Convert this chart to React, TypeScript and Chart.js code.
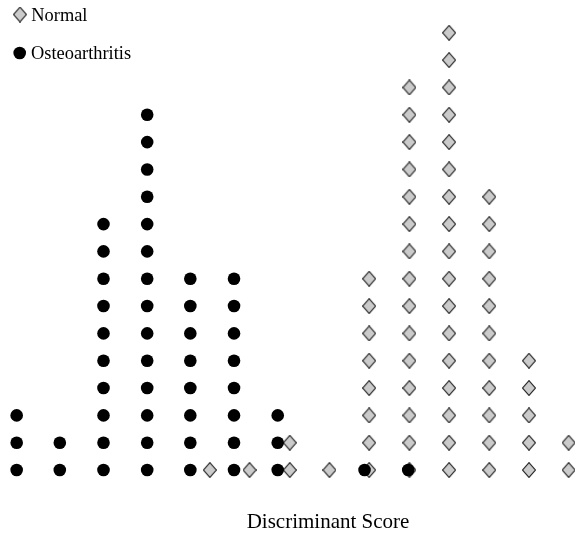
import React, { useEffect, useRef } from "react";
import { Chart, registerables } from "chart.js";

Chart.register(...registerables);

// Discriminant score bin centres and the number of subjects stacked in each bin
const osteoScores = [-4.71, -3.96, -3.2, -2.44, -1.69, -0.93, -0.17, 1.34, 2.1];
const osteoCounts = [3, 2, 10, 14, 8, 8, 3, 1, 1];
const normalScores = [-1.35, -0.66, 0.04, 0.73, 1.42, 2.12, 2.81, 3.51, 4.2, 4.89];
const normalCounts = [1, 1, 2, 1, 8, 15, 17, 11, 5, 2];
const seriesLabels = ["Normal", "Osteoarthritis"];
const axisTitle = "Discriminant Score";

const FONT = "'Liberation Serif', 'Times New Roman', serif";
const DIAMOND_FILL = "#cbcbcb";
const DIAMOND_STROKE = "#222222";

function stack(scores: number[], counts: number[]) {
  const pts: { x: number; y: number }[] = [];
  scores.forEach((s, i) => {
    for (let k = 0; k < counts[i]; k++) pts.push({ x: s, y: k });
  });
  return pts;
}

function makeDiamond(): HTMLCanvasElement {
  const c = document.createElement("canvas");
  c.width = 14;
  c.height = 16;
  const g = c.getContext("2d")!;
  g.beginPath();
  g.moveTo(7, 0.6);
  g.lineTo(13.4, 8);
  g.lineTo(7, 15.4);
  g.lineTo(0.6, 8);
  g.closePath();
  g.fillStyle = DIAMOND_FILL;
  g.fill();
  g.lineWidth = 1.1;
  g.strokeStyle = DIAMOND_STROKE;
  g.stroke();
  return c;
}

export default function App() {
  const ref = useRef<HTMLCanvasElement | null>(null);

  useEffect(() => {
    if (!ref.current) return;
    const diamond = makeDiamond();

    const legendPlugin = {
      id: "dotLegend",
      afterDraw(chart: any) {
        const ctx = chart.ctx as CanvasRenderingContext2D;
        ctx.save();
        ctx.drawImage(diamond, 13, 6.5);
        ctx.beginPath();
        ctx.arc(19.7, 53, 6.3, 0, Math.PI * 2);
        ctx.fillStyle = "#000";
        ctx.fill();
        ctx.font = `18.4px ${FONT}`;
        ctx.fillStyle = "#000";
        ctx.textBaseline = "alphabetic";
        ctx.textAlign = "left";
        ctx.fillText(seriesLabels[0], 31.3, 20.7);
        ctx.fillText(seriesLabels[1], 31, 59.3);
        ctx.restore();
      },
    };

    const chart = new Chart(ref.current, {
      type: "scatter",
      data: {
        datasets: [
          {
            label: seriesLabels[0],
            data: stack(normalScores, normalCounts),
            pointStyle: diamond as any,
            pointRadius: 7,
            order: 1,
          },
          {
            label: seriesLabels[1],
            data: stack(osteoScores, osteoCounts),
            pointStyle: "circle",
            pointRadius: 6.3,
            backgroundColor: "#000",
            borderWidth: 0,
            order: 0,
          },
        ],
      },
      options: {
        responsive: false,
        animation: false,
        layout: { autoPadding: false, padding: 0 },
        plugins: {
          legend: { display: false },
          tooltip: { enabled: false },
        },
        scales: {
          x: {
            type: "linear",
            min: -5,
            max: 6.409,
            grid: { display: false },
            border: { display: false },
            ticks: { display: false },
            title: {
              display: true,
              text: axisTitle,
              color: "#000",
              font: { family: FONT, size: 21 },
              padding: { top: 11, bottom: 0.5 },
            },
          },
          y: {
            type: "linear",
            display: false,
            min: -0.778,
            max: 17.2,
          },
        },
      },
      plugins: [legendPlugin],
    });

    return () => chart.destroy();
  }, []);

  return (
    <div
      style={{
        position: "absolute",
        left: 0,
        top: 0,
        width: 575,
        height: 536,
        overflow: "hidden",
        background: "#fff",
      }}
    >
      <canvas ref={ref} width={656} height={536} style={{ display: "block" }} />
    </div>
  );
}
